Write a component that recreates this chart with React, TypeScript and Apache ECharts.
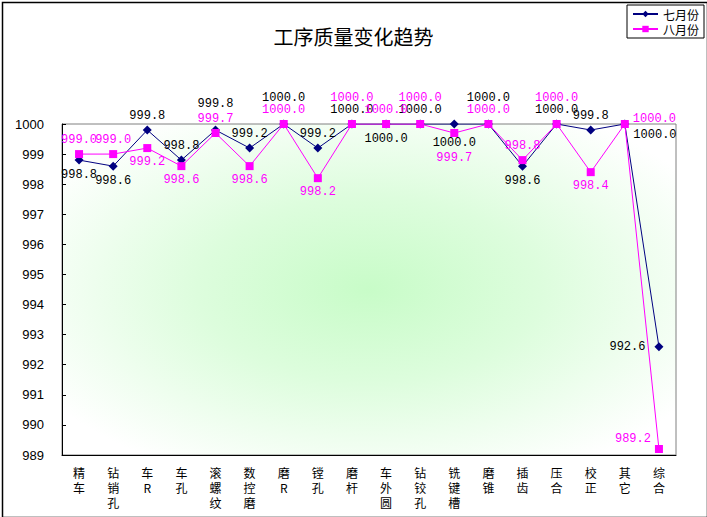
import React, { useEffect, useRef } from "react";
import * as echarts from "echarts";

const categories = [
  "精\n车", "钻\n销\n孔", "车\nR", "车\n孔", "滚\n螺\n纹", "数\n控\n磨", "磨\nR", "镗\n孔", "磨\n杆",
  "车\n外\n圆", "钻\n铰\n孔", "铣\n键\n槽", "磨\n锥", "插\n齿", "压\n合", "校\n正", "其\n它", "综\n合",
];
const julyValues = [
  998.8, 998.6, 999.8, 998.8, 999.8, 999.2, 1000.0, 999.2, 1000.0,
  1000.0, 1000.0, 1000.0, 1000.0, 998.6, 1000.0, 999.8, 1000.0, 992.6,
];
const augustValues = [
  999.0, 999.0, 999.2, 998.6, 999.7, 998.6, 1000.0, 998.2, 1000.0,
  1000.0, 1000.0, 999.7, 1000.0, 998.8, 1000.0, 998.4, 1000.0, 989.2,
];
const seriesNames = ["七月份", "八月份"];
const titleText = "工序质量变化趋势";

// label placement styles per point
const julyLabelPlace = [
  "bottom", "bottom", "top", "top", "top2", "top", "top2", "top", "top",
  "bottom", "top", "bottomLow", "top2", "bottom", "top", "top", "rightLow", "left",
];
const augustLabelPlace = [
  "top", "top", "bottom", "bottom", "top", "bottom", "top", "bottom", "top2",
  "top", "top2", "bottom2", "top", "top", "top2", "bottom", "right", "leftHigh",
];

const PLACE: Record<string, any> = {
  top: { position: "top" },
  top2: { position: "top", offset: [0, -12] },
  bottom: { position: "bottom" },
  bottomLow: { position: "bottom", offset: [0, 4] },
  bottom2: { position: "bottom", offset: [0, 11] },
  right: { position: "right", offset: [0, -5] },
  rightLow: { position: "right", offset: [0, 11] },
  left: { position: "left", offset: [-5, 0] },
  leftHigh: { position: "left", offset: [0, -10] },
};

const LABEL_FONT = "'Liberation Mono', 'DejaVu Sans Mono', monospace";

function buildData(values: number[], places: string[]) {
  return values.map((v, i) => ({
    value: v,
    label: { ...PLACE[places[i]] },
  }));
}

export default function App() {
  const ref = useRef<HTMLDivElement>(null);
  useEffect(() => {
    if (!ref.current) return;
    const chart = echarts.init(ref.current, undefined, { renderer: "svg" });
    chart.setOption({
      animation: false,
      backgroundColor: "#ffffff",
      title: {
        text: titleText,
        left: "center",
        top: 21,
        textStyle: {
          fontFamily: "'Noto Sans CJK SC', sans-serif",
          fontSize: 20,
          fontWeight: "normal",
          color: "#000",
        },
      },
      legend: {
        orient: "vertical",
        left: 627,
        top: 5,
        padding: [3, 5, 3, 5],
        itemGap: 3,
        itemWidth: 25,
        itemHeight: 8,
        borderColor: "#000",
        borderWidth: 1,
        backgroundColor: "#fff",
        textStyle: { fontFamily: "'Noto Sans CJK SC', sans-serif", fontSize: 12, color: "#000" },
        data: seriesNames,
      },
      graphic: [
        {
          type: "rect",
          left: 0,
          top: 0,
          shape: { width: 705, height: 515 },
          style: { fill: "none", stroke: "#000", lineWidth: 1.5 },
          silent: true,
          z: 100,
        },
      ],
      grid: {
        left: 62,
        right: 31,
        top: 124,
        bottom: 62,
        show: true,
        borderColor: "#808080",
        borderWidth: 1,
        backgroundColor: {
          type: "radial",
          x: 0.5,
          y: 0.5,
          r: 0.62,
          colorStops: [
            { offset: 0, color: "#C8FCC8" },
            { offset: 0.45, color: "#DDFDDD" },
            { offset: 1, color: "#FFFFFF" },
          ],
        },
      },
      xAxis: {
        type: "category",
        data: categories,
        boundaryGap: true,
        axisLine: { lineStyle: { color: "#000", width: 1 } },
        axisTick: { inside: true, length: 4, lineStyle: { color: "#000" } },
        axisLabel: {
          interval: 0,
          color: "#000",
          fontFamily: "'Noto Sans CJK SC', sans-serif",
          fontSize: 12,
          lineHeight: 15,
          margin: 10,
        },
        splitLine: { show: false },
      },
      yAxis: {
        type: "value",
        min: 989,
        max: 1000,
        interval: 1,
        axisLine: { show: true, lineStyle: { color: "#000", width: 1 } },
        axisTick: { show: true, inside: true, length: 4, lineStyle: { color: "#000" } },
        axisLabel: {
          color: "#000",
          fontFamily: "'Liberation Sans', sans-serif",
          fontSize: 13,
          margin: 18,
          formatter: (v: number) => String(v),
        },
        splitLine: { show: false },
      },
      series: [
        {
          name: seriesNames[0],
          type: "line",
          data: buildData(julyValues, julyLabelPlace),
          symbol: "diamond",
          symbolSize: 9,
          lineStyle: { color: "#000080", width: 1 },
          itemStyle: { color: "#000080" },
          label: {
            show: true,
            color: "#000",
            fontFamily: LABEL_FONT,
            fontSize: 12,
            distance: 4,
            formatter: (p: any) => Number(p.value).toFixed(1),
          },
          z: 2,
        },
        {
          name: seriesNames[1],
          type: "line",
          data: buildData(augustValues, augustLabelPlace),
          symbol: "rect",
          symbolSize: 8,
          lineStyle: { color: "#FF00FF", width: 1 },
          itemStyle: { color: "#FF00FF" },
          label: {
            show: true,
            color: "#FF00FF",
            fontFamily: LABEL_FONT,
            fontSize: 12,
            distance: 4,
            formatter: (p: any) => Number(p.value).toFixed(1),
          },
          z: 3,
        },
      ],
    });
    return () => chart.dispose();
  }, []);
  return (
    <div
      ref={ref}
      style={{ position: "fixed", left: 0, top: 0, width: 707, height: 517 }}
    />
  );
}
